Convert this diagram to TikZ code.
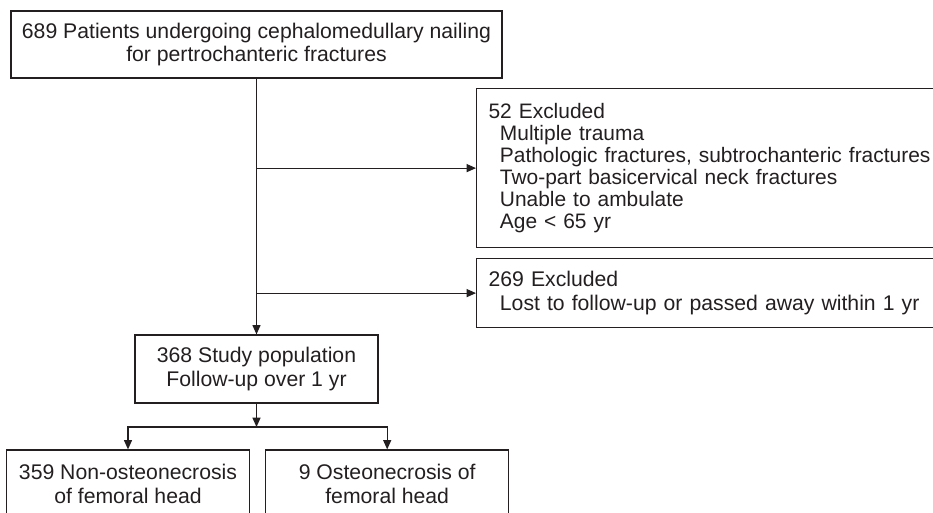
\documentclass[tikz,border=0pt]{standalone}
\usepackage{fontspec}
\setmainfont{Liberation Sans}
\usetikzlibrary{arrows.meta, positioning}
\definecolor{ink}{HTML}{231F20}
\tikzstyle{boxes} = [rectangle, draw=ink, text=ink, line width=0.9pt, minimum width=182.25pt,
minimum height=51pt, inner sep=0pt, align=center]
\tikzstyle{exclbox} = [rectangle, draw=ink, text=ink, line width=0.9pt, text width=337.5pt,
inner xsep=9pt, inner ysep=0pt, align=left, anchor=north west]
\tikzstyle{line} = [draw=ink, line width=0.9pt]
\tikzstyle{arrow} = [draw=ink, line width=0.9pt, -{Triangle[length=7pt, width=6pt]}]
\newcommand{\ind}{\hspace*{8.5pt}}

\begin{document}
\begin{tikzpicture}[x=0.75pt, y=-0.75pt, font=\fontsize{15.9}{17.4}\selectfont]
    \clip (0,0) rectangle (933,512);

    \node (patients) [boxes, minimum width=368.25pt, minimum height=50.25pt] at (256.5,44.5)
    {689 Patients undergoing cephalomedullary nailing\\for pertrochanteric fractures};
    \node (excl52) [exclbox, minimum height=119.25pt, font=\fontsize{15.7}{16.4}\selectfont] at (476,88)
    {52 Excluded\\\ind Multiple trauma\\\ind Pathologic fractures, subtrochanteric fractures\\
    \ind Two-part basicervical neck fractures\\\ind Unable to ambulate\\\ind Age < 65 yr};
    \node (excl269) [exclbox, minimum height=51.75pt] at (476,258)
    {269 Excluded\\\ind Lost to follow-up or passed away within 1 yr};
    \node (study) [boxes] at (256.5,369) {368 Study population\\Follow-up over 1 yr};
    \node (nonON) [boxes] at (128,484) {359 Non-osteonecrosis\\of femoral head};
    \node (ON) [boxes, right=11.25pt of nonON] {9 Osteonecrosis of\\femoral head};
    \coordinate (split) at (256.5,427);

    \draw[arrow] (patients) -- (study);
    \draw[arrow] (patients.south |- excl52.west) -- (excl52.west);
    \draw[arrow] (patients.south |- excl269.west) -- (excl269.west);
    \draw[arrow] (study) -- (split);
    \draw[arrow] (split) -| (nonON.north);
    \draw[arrow] (split) -| (ON.north);

\end{tikzpicture}
\end{document}
